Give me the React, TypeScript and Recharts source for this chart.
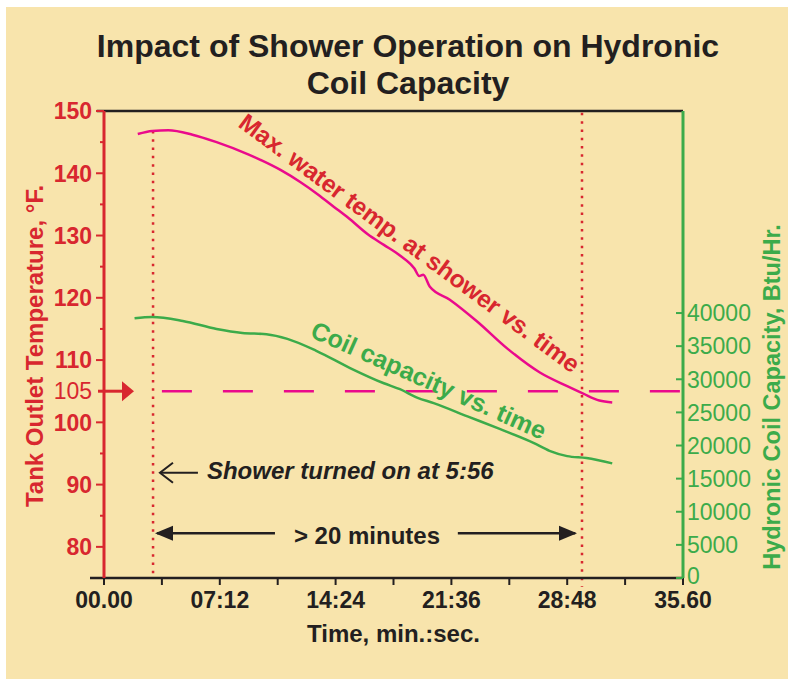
import React from 'react';
import { LineChart, Line, XAxis, YAxis, ReferenceLine, ReferenceDot } from 'recharts';

// time in decimal minutes
const tempTimes = [2.1, 3.0, 4.0, 5.5, 7.0, 9.0, 11.0, 12.2, 13.3, 14.3, 15.2, 16.4, 17.4, 18.4, 19.3, 19.6, 19.85, 20.25, 21.5, 23.2, 25.1, 27.1, 28.8, 29.8, 30.8, 31.6];
const tempValues = [146.3, 146.8, 146.9, 146.2, 145.0, 143.0, 140.5, 138.6, 136.6, 134.6, 132.8, 130.2, 128.5, 126.8, 124.7, 123.5, 123.7, 121.8, 119.7, 116.2, 111.8, 108.0, 105.8, 104.6, 103.5, 103.2];

const capTimes = [1.9, 3.0, 4.9, 7.0, 8.6, 10.1, 11.4, 13.2, 15.3, 17.4, 18.4, 19.5, 20.5, 22.6, 24.6, 26.7, 27.7, 28.8, 30.0, 31.6];
const capValues = [39200, 39400, 38800, 37600, 37000, 36800, 36100, 34300, 31700, 29400, 28500, 27200, 26400, 24400, 22500, 20400, 19200, 18400, 18100, 17300];

const xTicks = [0, 3.6, 7.2, 10.8, 14.4, 18, 21.6, 25.2, 28.8, 32.4, 36];
const xTickLabels = ['00.00', '', '07:12', '', '14:24', '', '21:36', '', '28:48', '', '35.60'];
const tempTicks = [80, 85, 90, 95, 100, 105, 110, 115, 120, 125, 130, 135, 140, 145, 150];
const capTicks = [0, 5000, 10000, 15000, 20000, 25000, 30000, 35000, 40000];

const showerOn = 3.05;
const twentyMinLater = 29.72;
const targetTemp = 105;

const tempData = tempTimes.map((t, i) => ({ t, temp: tempValues[i] }));
const capData = capTimes.map((t, i) => ({ t, cap: capValues[i] }));

const BG = '#f8e4ac';
const RED = '#d8272f';
const PINK = '#ea0a8c';
const GREEN = '#3cab4a';
const BLACK = '#231f20';
const FONT = '"Liberation Sans", Arial, Helvetica, sans-serif';

const LeftTick = (props: any) => {
  const { x, y, payload } = props;
  const v = payload.value;
  if (v === targetTemp) {
    return (
      <g>
        <line x1={x - 6} y1={y} x2={x + 19} y2={y} stroke={RED} strokeWidth={3} />
        <polygon points={`${x + 18},${y - 10} ${x + 30},${y} ${x + 18},${y + 10}`} fill={RED} />
        <text x={x - 12} y={y} dy="0.36em" textAnchor="end" fontSize={23} fill={RED}>
          {v}
        </text>
      </g>
    );
  }
  const major = v % 10 === 0;
  return (
    <g>
      <line x1={x - (major ? 8 : 4)} y1={y} x2={x} y2={y} stroke={RED} strokeWidth={2} />
      {major && (
        <text x={x - 12} y={y} dy="0.36em" textAnchor="end" fontSize={23} fontWeight={700} fill={RED}>
          {v}
        </text>
      )}
    </g>
  );
};

const RightTick = (props: any) => {
  const { x, y, payload } = props;
  return (
    <g>
      <line x1={x - 7} y1={y} x2={x} y2={y} stroke={GREEN} strokeWidth={2} />
      <text x={x + 4} y={y} dy={payload.value === 0 ? '0.25em' : '0.36em'} textAnchor="start" fontSize={23} fill={GREEN}>
        {payload.value}
      </text>
    </g>
  );
};

const ArrowHead = ({ cx, cy, dir }: any) => {
  const s = dir === 'left' ? 1 : -1;
  return <polygon points={`${cx},${cy} ${cx + s * 18},${cy - 7.5} ${cx + s * 18},${cy + 7.5}`} fill={BLACK} />;
};

const Chevron = ({ cx, cy }: any) => (
  <polyline points={`${cx + 13},${cy - 10} ${cx},${cy} ${cx + 13},${cy + 10}`} fill="none" stroke={BLACK} strokeWidth={2} />
);

const Note = ({ cx, cy, text, color, angle = 0, anchor = 'middle', italic = false, size = 24 }: any) => (
  <text
    x={cx}
    y={cy}
    textAnchor={anchor}
    dominantBaseline="central"
    fontSize={size}
    fontWeight={700}
    fontStyle={italic ? 'italic' : 'normal'}
    fill={color}
    transform={angle ? `rotate(${angle} ${cx} ${cy})` : undefined}
  >
    {text}
  </text>
);

export default function App() {
  return (
    <div
      style={{
        position: 'fixed',
        left: 6,
        top: 7,
        width: 782,
        height: 672,
        background: BG,
        fontFamily: FONT,
      }}
    >
      <svg width={782} height={672} style={{ position: 'absolute', left: 0, top: 0 }}>
        <text x={402} y={49.5} textAnchor="middle" fontSize={32} fontWeight={700} fill={BLACK}>
          Impact of Shower Operation on Hydronic
        </text>
        <text x={402} y={86.5} textAnchor="middle" fontSize={32} fontWeight={700} fill={BLACK}>
          Coil Capacity
        </text>
        <text x={28} y={339} textAnchor="middle" dominantBaseline="central" fontSize={24} fontWeight={700} fill={RED} transform="rotate(-90 28 339)">
          Tank Outlet Temperature, °F.
        </text>
        <text x={766} y={390} textAnchor="middle" dominantBaseline="central" fontSize={23.5} fontWeight={700} fill={GREEN} transform="rotate(-90 766 390)">
          Hydronic Coil Capacity, Btu/Hr.
        </text>
        <text x={387.5} y={626} textAnchor="middle" dominantBaseline="central" fontSize={24} fontWeight={700} fill={BLACK}>
          Time, min.:sec.
        </text>
      </svg>
      <div style={{ position: 'absolute', left: 0, top: 0 }}>
        <LineChart width={782} height={672} margin={{ top: 104, right: 45, bottom: 71, left: 38 }}>
          <XAxis
            dataKey="t"
            type="number"
            domain={[0, 36]}
            ticks={xTicks}
            interval={0}
            allowDataOverflow
            tickFormatter={(v: number) => xTickLabels[xTicks.indexOf(v)] ?? ''}
            tick={{ fill: BLACK, fontSize: 23, fontWeight: 700 }}
            tickSize={7}
            tickMargin={7}
            tickLine={{ stroke: BLACK, strokeWidth: 2 }}
            axisLine={{ stroke: BLACK, strokeWidth: 2.5 }}
            height={30}
          />
          <YAxis
            yAxisId="left"
            domain={[75, 150]}
            ticks={tempTicks}
            interval={0}
            allowDataOverflow
            width={60}
            tickSize={0}
            tickMargin={0}
            tickLine={false}
            tick={<LeftTick />}
            axisLine={{ stroke: RED, strokeWidth: 3 }}
          />
          <YAxis
            yAxisId="right"
            orientation="right"
            domain={[0, 70500]}
            ticks={capTicks}
            interval={0}
            allowDataOverflow
            width={60}
            tickSize={0}
            tickMargin={0}
            tickLine={false}
            tick={<RightTick />}
            axisLine={{ stroke: GREEN, strokeWidth: 3 }}
          />

          <ReferenceLine yAxisId="left" segment={[{ x: -0.45, y: 150 }, { x: 36, y: 150 }]} ifOverflow="visible" stroke={BLACK} strokeWidth={2.5} />
          <ReferenceLine yAxisId="left" segment={[{ x: -0.87, y: 75 }, { x: 0, y: 75 }]} ifOverflow="visible" stroke={BLACK} strokeWidth={2.5} />
          <ReferenceLine yAxisId="left" segment={[{ x: 3.6, y: targetTemp }, { x: 36, y: targetTemp }]} stroke={PINK} strokeWidth={2.5} strokeDasharray="30 31" />
          <ReferenceLine yAxisId="left" segment={[{ x: showerOn, y: 146.8 }, { x: showerOn, y: 74.8 }]} ifOverflow="visible" stroke={RED} strokeWidth={2.5} strokeDasharray="2.5 5.8" />
          <ReferenceLine yAxisId="left" segment={[{ x: twentyMinLater, y: 149.7 }, { x: twentyMinLater, y: 73.6 }]} ifOverflow="visible" stroke={RED} strokeWidth={2.5} strokeDasharray="2.5 5.8" />

          <ReferenceLine yAxisId="left" segment={[{ x: 3.3, y: 82.2 }, { x: 10.63, y: 82.2 }]} stroke={BLACK} strokeWidth={2.5} />
          <ReferenceLine yAxisId="left" segment={[{ x: 22.0, y: 82.2 }, { x: 29.3, y: 82.2 }]} stroke={BLACK} strokeWidth={2.5} />
          <ReferenceDot yAxisId="left" x={3.17} y={82.2} shape={(p: any) => <ArrowHead cx={p.cx} cy={p.cy} dir="left" />} />
          <ReferenceDot yAxisId="left" x={29.41} y={82.2} shape={(p: any) => <ArrowHead cx={p.cx} cy={p.cy} dir="right" />} />
          <ReferenceDot yAxisId="left" x={16.35} y={81.9} shape={(p: any) => <Note cx={p.cx} cy={p.cy} text="> 20 minutes" color={BLACK} />} />

          <ReferenceLine yAxisId="left" segment={[{ x: 3.5, y: 91.9 }, { x: 5.84, y: 91.9 }]} stroke={BLACK} strokeWidth={2} />
          <ReferenceDot yAxisId="left" x={3.48} y={91.9} shape={(p: any) => <Chevron cx={p.cx} cy={p.cy} />} />
          <ReferenceDot yAxisId="left" x={6.4} y={92.3} shape={(p: any) => <Note cx={p.cx} cy={p.cy} text="Shower turned on at 5:56" color={BLACK} anchor="start" italic />} />

          <ReferenceDot yAxisId="left" x={19.0} y={128.8} shape={(p: any) => <Note cx={p.cx} cy={p.cy} text="Max. water temp. at  shower vs. time" color={RED} angle={36.5} size={24.5} />} />
          <ReferenceDot yAxisId="left" x={20.2} y={106.8} shape={(p: any) => <Note cx={p.cx} cy={p.cy} text="Coil capacity vs. time" color={GREEN} angle={24} size={25} />} />

          <Line data={tempData} yAxisId="left" dataKey="temp" type="monotone" stroke={PINK} strokeWidth={2.5} dot={false} isAnimationActive={false} />
          <Line data={capData} yAxisId="right" dataKey="cap" type="monotone" stroke={GREEN} strokeWidth={2.5} dot={false} isAnimationActive={false} />
        </LineChart>
      </div>
    </div>
  );
}
